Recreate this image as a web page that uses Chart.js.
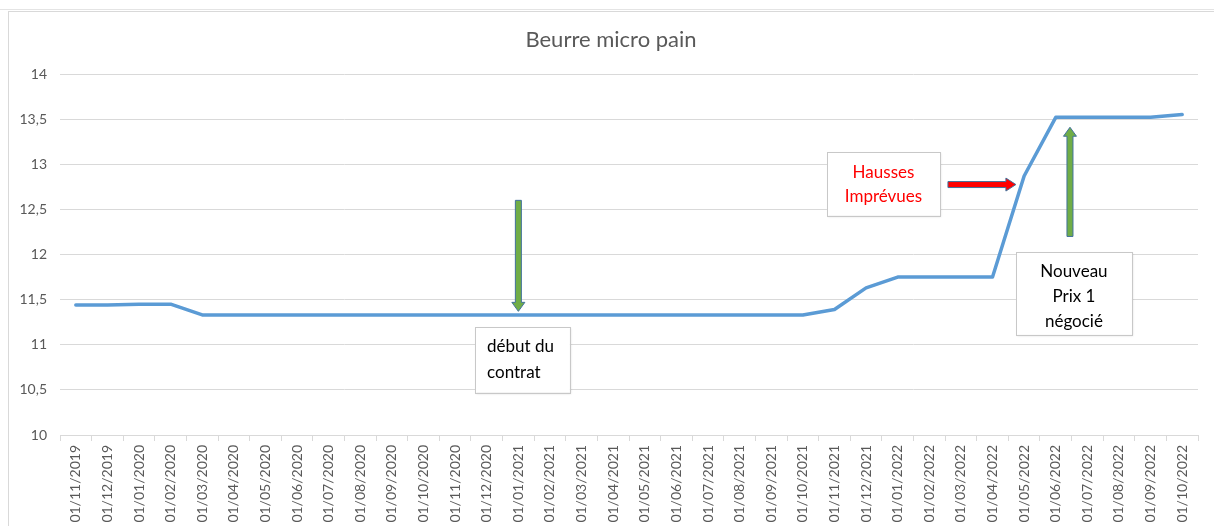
<!DOCTYPE html>
<html>
<head>
<meta charset="utf-8">
<script src="https://cdn.jsdelivr.net/npm/chart.js@4.4.0/dist/chart.umd.min.js"></script>
<style>
  html, body { margin: 0; padding: 0; background: #fff; }
  #wrap { position: relative; width: 1214px; height: 526px; overflow: hidden; }
  #frame { position: absolute; left: 8px; top: 11px; width: 1300px; height: 600px;
           border-left: 1px solid #d9d9d9; border-top: 1px solid #d9d9d9; }
  #cellline { position: absolute; left: 0; top: 9px; width: 1214px; height: 0; border-top: 1px solid #e4e4e4; }
  canvas { position: absolute; left: 0; top: 0; }
</style>
</head>
<body>
<div id="wrap">
  <div id="cellline"></div>
  <div id="frame"></div>
  <canvas id="c" width="1214" height="526"></canvas>
</div>
<script>
const chartTitle = 'Beurre micro pain';
const dates = [
  '01/11/2019','01/12/2019','01/01/2020','01/02/2020','01/03/2020','01/04/2020',
  '01/05/2020','01/06/2020','01/07/2020','01/08/2020','01/09/2020','01/10/2020',
  '01/11/2020','01/12/2020','01/01/2021','01/02/2021','01/03/2021','01/04/2021',
  '01/05/2021','01/06/2021','01/07/2021','01/08/2021','01/09/2021','01/10/2021',
  '01/11/2021','01/12/2021','01/01/2022','01/02/2022','01/03/2022','01/04/2022',
  '01/05/2022','01/06/2022','01/07/2022','01/08/2022','01/09/2022','01/10/2022'
];
const prices = [
  11.44, 11.44, 11.45, 11.45, 11.33, 11.33,
  11.33, 11.33, 11.33, 11.33, 11.33, 11.33,
  11.33, 11.33, 11.33, 11.33, 11.33, 11.33,
  11.33, 11.33, 11.33, 11.33, 11.33, 11.33,
  11.39, 11.63, 11.75, 11.75, 11.75, 11.75,
  12.87, 13.52, 13.52, 13.52, 13.52, 13.55
];
const yMin = 10, yMax = 14, yStep = 0.5;
const noteContrat = ['début du', 'contrat'];
const noteHausses = ['Hausses', 'Imprévues'];
const notePrix = ['Nouveau', 'Prix 1', 'négocié'];

const FONT = 'Lato, "Open Sans", "DejaVu Sans", sans-serif';

function drawArrow(ctx, x1, y1, x2, y2, shaft, headW, headL, fill, stroke) {
  const dx = x2 - x1, dy = y2 - y1;
  const len = Math.hypot(dx, dy);
  const ux = dx / len, uy = dy / len;
  const nx = -uy, ny = ux;
  const bx = x2 - ux * headL, by = y2 - uy * headL;
  const s = shaft / 2, h = headW / 2;
  ctx.save();
  ctx.beginPath();
  ctx.moveTo(x1 + nx * s, y1 + ny * s);
  ctx.lineTo(bx + nx * s, by + ny * s);
  ctx.lineTo(bx + nx * h, by + ny * h);
  ctx.lineTo(x2, y2);
  ctx.lineTo(bx - nx * h, by - ny * h);
  ctx.lineTo(bx - nx * s, by - ny * s);
  ctx.lineTo(x1 - nx * s, y1 - ny * s);
  ctx.closePath();
  ctx.fillStyle = fill;
  ctx.fill();
  ctx.lineWidth = 1;
  ctx.strokeStyle = stroke;
  ctx.stroke();
  ctx.restore();
}

function drawBox(ctx, x1, y1, x2, y2, lines, color, align, textX, lineYs) {
  ctx.save();
  ctx.shadowColor = 'rgba(0,0,0,0.12)';
  ctx.shadowBlur = 2;
  ctx.shadowOffsetX = 1;
  ctx.shadowOffsetY = 1;
  ctx.fillStyle = '#ffffff';
  ctx.fillRect(x1, y1, x2 - x1, y2 - y1);
  ctx.restore();
  ctx.save();
  ctx.strokeStyle = '#c8c8c8';
  ctx.lineWidth = 1;
  ctx.strokeRect(Math.round(x1) + 0.5, Math.round(y1) + 0.5, Math.round(x2 - x1), Math.round(y2 - y1));
  ctx.fillStyle = color;
  ctx.font = '17px ' + FONT;
  ctx.textAlign = align;
  ctx.textBaseline = 'middle';
  lines.forEach((t, i) => ctx.fillText(t, textX, lineYs[i]));
  ctx.restore();
}

const titleDrawer = {
  id: 'titleDrawer',
  afterDraw(chart) {
    const ctx = chart.ctx;
    ctx.save();
    ctx.fillStyle = '#595959';
    ctx.font = '22px ' + FONT;
    ctx.textAlign = 'center';
    ctx.textBaseline = 'middle';
    ctx.fillText(chartTitle, 611, 40);
    ctx.restore();
  }
};

const annotations = {
  id: 'annotations',
  afterDatasetsDraw(chart) {
    const ctx = chart.ctx;
    const xs = chart.scales.x, ys = chart.scales.y;
    const X = v => xs.getPixelForValue(v);
    const Y = v => ys.getPixelForValue(v);

    // début du contrat
    drawArrow(ctx, X(14), Y(12.6), X(14), Y(11.37), 6, 13, 9, '#70ad47', '#41719c');
    drawBox(ctx, X(12.63), Y(11.2), X(15.63), Y(10.47), noteContrat, '#000000', 'left',
            X(12.63) + 12, [Y(11.2) + 20, Y(11.2) + 46]);

    // Hausses imprévues
    drawBox(ctx, X(23.76), Y(13.14), X(27.34), Y(12.43), noteHausses, '#ff0000', 'center',
            (X(23.76) + X(27.34)) / 2, [Y(13.14) + 21, Y(13.14) + 45]);
    drawArrow(ctx, X(27.59), Y(12.775), X(29.74), Y(12.775), 6, 13, 10, '#ff0000', '#41719c');

    // Nouveau prix
    drawArrow(ctx, X(31.45), Y(12.2), X(31.45), Y(13.41), 6, 13, 9, '#70ad47', '#41719c');
    drawBox(ctx, X(29.74), Y(12.03), X(33.41), Y(11.11), notePrix, '#000000', 'center',
            (X(29.74) + X(33.41)) / 2, [Y(12.03) + 20, Y(12.03) + 45, Y(12.03) + 70]);
  }
};

Chart.defaults.font.family = FONT;
Chart.defaults.color = '#595959';

new Chart(document.getElementById('c'), {
  type: 'line',
  data: {
    labels: dates,
    datasets: [{
      data: prices,
      borderColor: '#5b9bd5',
      borderWidth: 3.5,
      pointRadius: 0,
      pointHoverRadius: 0,
      tension: 0,
      fill: false,
      borderCapStyle: 'round',
      borderJoinStyle: 'round'
    }]
  },
  options: {
    responsive: false,
    animation: false,
    events: [],
    layout: { padding: { left: 0, right: 16, top: 74, bottom: 0 } },
    plugins: {
      legend: { display: false },
      tooltip: { enabled: false },
      title: { display: false }
    },
    scales: {
      x: {
        offset: true,
        grid: { display: true, drawOnChartArea: false, drawTicks: true, tickLength: 6,
                offset: true, color: '#d9d9d9' },
        border: { display: true, color: '#d9d9d9', width: 1 },
        ticks: { autoSkip: false, maxRotation: 90, minRotation: 90, padding: 4,
                 color: '#595959', font: { size: 14 } },
        afterFit(scale) { scale.height = 91; }
      },
      y: {
        min: yMin, max: yMax,
        grid: { color: '#d9d9d9', drawTicks: false },
        border: { display: false },
        ticks: { stepSize: yStep, padding: 13, color: '#595959', font: { size: 14 },
                 callback: v => String(v).replace('.', ',') },
        afterFit(scale) { scale.width = 60; }
      }
    }
  },
  plugins: [annotations, titleDrawer]
});
</script>
</body>
</html>
